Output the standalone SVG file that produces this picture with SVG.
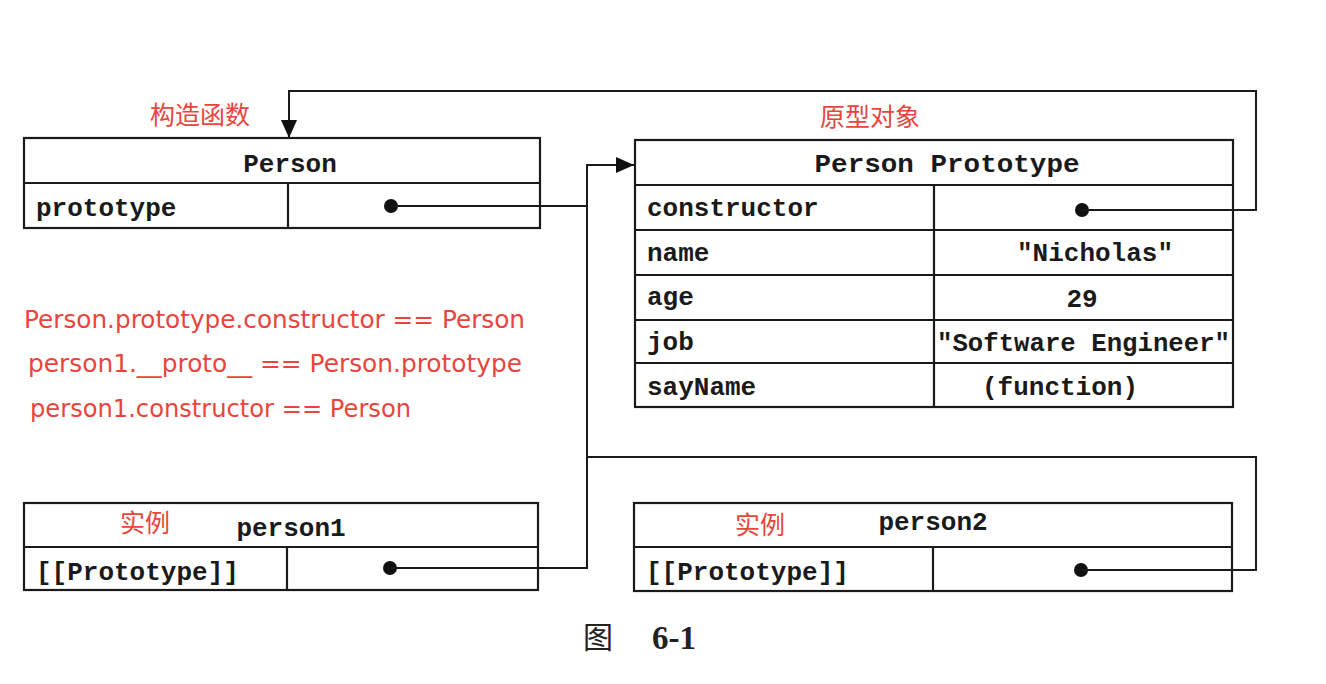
<svg xmlns="http://www.w3.org/2000/svg" width="1326" height="684" viewBox="0 0 1326 684">
<style>
.box{fill:none;stroke:#1a1a1a;stroke-width:2.2}
.ln{fill:none;stroke:#1a1a1a;stroke-width:2}
.mono{font-family:"Liberation Mono","DejaVu Sans Mono",monospace;font-weight:bold;font-size:26px;fill:#1a1a1a}
.red{font-family:"DejaVu Sans","Liberation Sans",sans-serif;font-size:24px;fill:#e8453c}
.redcn{font-family:"Noto Sans CJK SC",sans-serif;font-size:25px;fill:#e8453c}
.dot{fill:#111}
</style>
<defs>
<marker id="arrow" viewBox="0 0 18 16" refX="18" refY="8" markerWidth="18" markerHeight="16" markerUnits="userSpaceOnUse" orient="auto">
<path d="M0,0 L18,8 L0,16 Z" fill="#111"/>
</marker>
</defs>
<rect width="1326" height="684" fill="#ffffff"/>

<g id="person">
<rect class="box" x="24" y="138" width="516" height="90"/>
<line class="box" x1="24" y1="183" x2="540" y2="183"/>
<line class="box" x1="288" y1="183" x2="288" y2="228"/>
<text class="mono" x="290" y="172" text-anchor="middle">Person</text>
<text class="mono" x="36" y="216">prototype</text>
<circle class="dot" cx="391" cy="206" r="7"/>
<text class="redcn" x="150" y="124">构造函数</text>
</g>

<g id="person-prototype">
<rect class="box" x="635" y="140" width="598" height="267"/>
<line class="box" x1="635" y1="185" x2="1233" y2="185"/>
<line class="box" x1="635" y1="230" x2="1233" y2="230"/>
<line class="box" x1="635" y1="275" x2="1233" y2="275"/>
<line class="box" x1="635" y1="320" x2="1233" y2="320"/>
<line class="box" x1="635" y1="363" x2="1233" y2="363"/>
<line class="box" x1="934" y1="185" x2="934" y2="407"/>
<text class="mono" x="947" y="172" text-anchor="middle" textLength="265" lengthAdjust="spacingAndGlyphs">Person Prototype</text>
<text class="mono" x="647" y="216">constructor</text>
<circle class="dot" cx="1082" cy="210" r="7"/>
<text class="mono" x="647" y="261">name</text>
<text class="mono" x="1095" y="261" text-anchor="middle">"Nicholas"</text>
<text class="mono" x="647" y="305">age</text>
<text class="mono" x="1082" y="307" text-anchor="middle">29</text>
<text class="mono" x="647" y="350">job</text>
<text class="mono" x="937" y="351" textLength="293" lengthAdjust="spacingAndGlyphs">"Software Engineer"</text>
<text class="mono" x="647" y="395">sayName</text>
<text class="mono" x="1060" y="395" text-anchor="middle">(function)</text>
<text class="redcn" x="820" y="126">原型对象</text>
</g>

<g id="equations">
<text class="red" x="24" y="328" textLength="501" lengthAdjust="spacingAndGlyphs">Person.prototype.constructor == Person</text>
<text class="red" x="28" y="372" textLength="494" lengthAdjust="spacingAndGlyphs">person1.__proto__ == Person.prototype</text>
<text class="red" x="30" y="417" textLength="381" lengthAdjust="spacingAndGlyphs">person1.constructor == Person</text>
</g>

<g id="person1">
<rect class="box" x="24" y="503" width="514" height="87"/>
<line class="box" x1="24" y1="547" x2="538" y2="547"/>
<line class="box" x1="287" y1="547" x2="287" y2="590"/>
<text class="mono" x="291" y="536" text-anchor="middle">person1</text>
<text class="mono" x="36" y="580">[[Prototype]]</text>
<circle class="dot" cx="390" cy="568" r="7"/>
<text class="redcn" x="120" y="532">实例</text>
</g>

<g id="person2">
<rect class="box" x="634" y="503" width="598" height="88"/>
<line class="box" x1="634" y1="547" x2="1232" y2="547"/>
<line class="box" x1="933" y1="547" x2="933" y2="591"/>
<text class="mono" x="933" y="530" text-anchor="middle">person2</text>
<text class="mono" x="646" y="580">[[Prototype]]</text>
<circle class="dot" cx="1081" cy="570" r="7"/>
<text class="redcn" x="735" y="534">实例</text>
</g>

<g id="connectors">
<polyline class="ln" points="1082,210 1256,210 1256,91 289,91 289,138" marker-end="url(#arrow)"/>
<polyline class="ln" points="391,206 587,206"/>
<polyline class="ln" points="390,568 587,568 587,165 634,165" marker-end="url(#arrow)"/>
<polyline class="ln" points="1081,570 1256,570 1256,457 587,457"/>
</g>

<g id="caption">
<text x="583" y="648" style="font-family:'Noto Sans CJK SC',serif;font-size:30px;fill:#222">图</text>
<text x="652" y="649" style="font-family:'Liberation Serif',serif;font-size:33px;font-weight:bold;fill:#222">6-1</text>
</g>
</svg>
